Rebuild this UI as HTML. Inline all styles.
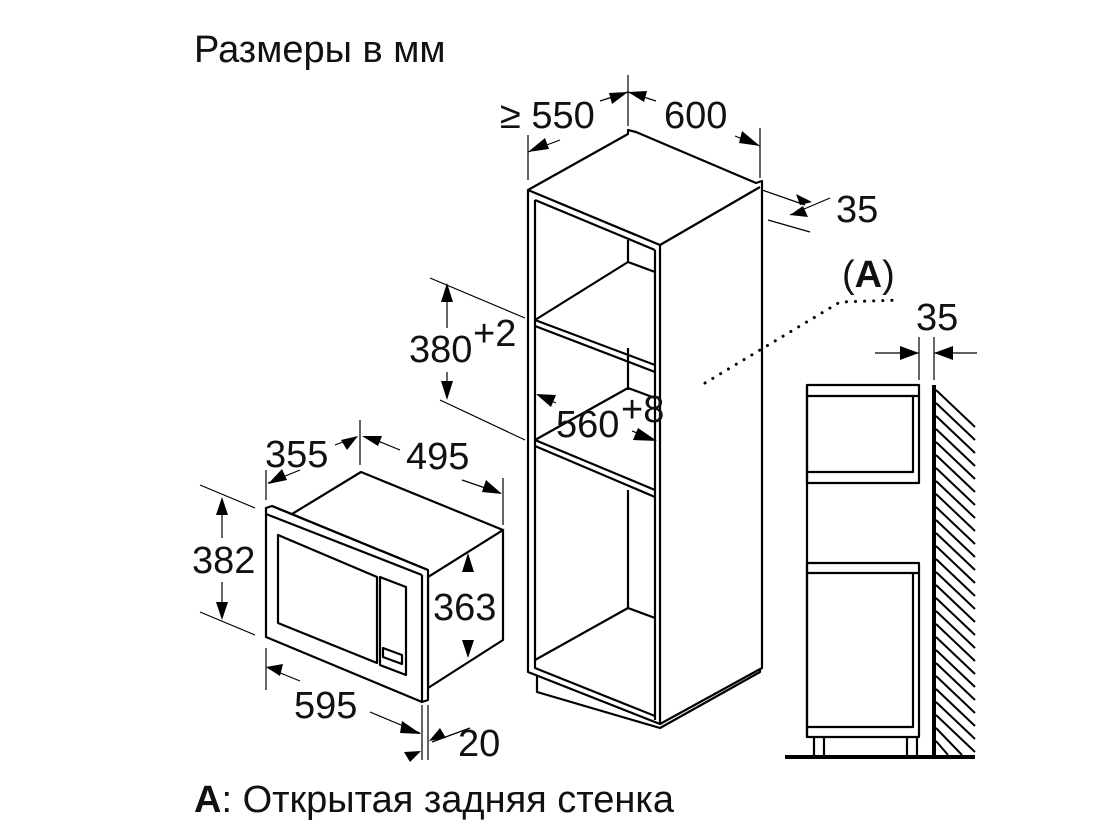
<!DOCTYPE html>
<html><head><meta charset="utf-8"><style>
html,body{margin:0;padding:0;background:#fff;}
svg{display:block;font-family:"Liberation Sans",Arial,sans-serif;}
</style></head><body>
<svg width="1119" height="838" viewBox="0 0 1119 838" xmlns="http://www.w3.org/2000/svg">
<style>
.l{stroke:#000;stroke-width:2.2;fill:none;stroke-linejoin:round}
.t{stroke:#000;stroke-width:1.2;fill:none}
.d{stroke:#000;stroke-width:1.2;fill:none;stroke-dasharray:9 6}
.w{fill:#fff;stroke:#000;stroke-width:2.2;stroke-linejoin:round}
text{font-size:38px;fill:#111}
</style>

<text x="194" y="62" font-size="35">Размеры в мм</text>
<text x="194" y="812" font-size="35"><tspan font-weight="bold">A</tspan>: Открытая задняя стенка</text>

<!-- ===== Tall cabinet ===== -->
<path class="d" d="M752 192 V662 M660 265 L752 302 M660 356 L752 306 M664 362 L752 314 M660 400 L744 442 M744 442 V655 M660 488 L744 440 M664 494 L744 448 M660 612 L752 658"/>
<path class="l" d="M537 672 V692 L660 728 L760 672 V660"/>
<path class="w" d="M528 190 L628 134 L628 130 L636 132 L756 183 L762 181 V668 L660 724 L528 672 Z"/>
<path class="l" d="M528 190 L660 245 L760 187"/>
<path class="l" d="M660 245 V724"/>
<path class="l" d="M655 250 V720"/>
<path class="l" d="M535 200 V668 L655 716"/>
<path class="l" d="M535 200 L655 250"/>
<path class="l" d="M628 240 V262 M628 348 V390 M628 490 V608"/>
<path class="l" d="M535 320 L628 262 L655 272 M535 320 L655 365 M535 326 L655 372"/>
<path class="l" d="M535 440 L628 388 L655 398 M535 440 L655 490 M535 446 L655 497"/>
<path class="l" d="M535 660 L628 608 L655 618"/>
<path d="M705 383 L840 302 L900 300" stroke="#000" stroke-width="3" stroke-dasharray="0.1 9" stroke-linecap="round" fill="none"/>
<text x="842" y="287" font-size="36">(<tspan font-weight="bold">A</tspan>)</text>

<path class="t" d="M528 180 V135 M628 75 V126 M760 178 V128"/>
<path class="t" d="M560 140 L528 152 M600 101 L628 92 M656 101 L628 92 M735 136 L760 146"/>
<polygon points="528,152 545,138 549,149"/><polygon points="628,92 609,93 612,104"/>
<polygon points="628,92 644,102 647,91"/><polygon points="760,146 742,131 739,143"/>
<text x="500" y="128">≥ 550</text>
<text x="664" y="128">600</text>
<path class="t" d="M762 190 L805 205 M768 220 L810 232 M790 215 L830 198"/>
<polygon points="790,215 808,217 803,206"/><polygon points="812,202 796,194 800,205"/>
<text x="836" y="222">35</text>

<path class="t" d="M430 278 L525 318 M440 400 L525 440 M447 285 V328 M447 372 V398"/>
<polygon points="447,283 441,302 453,302"/><polygon points="447,400 441,381 453,381"/>
<text x="409" y="362">380</text><text x="473" y="346" font-size="20">+2</text>
<path class="t" d="M540 396 L556 403 M632 431 L655 440"/>
<polygon points="536,394 556,395 551,407"/><polygon points="657,441 638,428 633,440"/>
<text x="556" y="437">560</text><text x="621" y="422" font-size="20">+8</text>

<!-- ===== Microwave ===== -->
<path class="w" d="M428 577 L503 530 V640 L428 688 Z"/>
<path class="w" d="M292 514 L361 472 L503 530 L428 577 Z"/>
<path class="w" d="M266 508 L272 506 L428 570 V700 L422 702 L266 637 Z"/>
<path class="l" d="M272 506 L428 570 M422 575 V702 M266 514 L422 575"/>
<path class="l" d="M278 535 L377 577 V663 L278 623 Z"/>
<path class="l" d="M380 577 L406 587 V675 L380 665 Z"/>
<path class="l" d="M383 648 L402 655 V664 L383 657 Z"/>
<path class="t" d="M266 500 V470 M360 465 V420 M503 525 V478"/>
<path class="t" d="M300 470 L268 483 M335 445 L356 437 M368 437 L400 450 M462 480 L500 493"/>
<polygon points="268,484 282,469 287,480"/><polygon points="358,436 341,440 347,450"/>
<polygon points="362,436 378,446 382,436"/><polygon points="502,494 486,480 482,492"/>
<text x="265" y="467">355</text><text x="406" y="469">495</text>
<path class="t" d="M200 485 L255 508 M200 612 L255 635 M222 500 V538 M222 582 V618"/>
<polygon points="222,497 216,515 228,515"/><polygon points="222,620 216,602 228,602"/>
<text x="192" y="573">382</text>
<path class="t" d="M468 555 V572 M468 640 V656"/>
<polygon points="468,553 462,572 474,572"/><polygon points="468,658 462,640 474,640"/>
<text x="433" y="620">363</text>
<path class="t" d="M266 648 V690 M422 705 V760 M428 705 V760 M268 668 L300 681 M370 712 L420 733 M432 742 L470 728"/>
<polygon points="266,667 283,664 280,676"/><polygon points="421,734 402,721 400,733"/>
<polygon points="429,741 440,728 446,738"/><polygon points="421,751 410,762 404,752"/>
<text x="294" y="718">595</text><text x="458" y="756">20</text>

<!-- ===== Section view ===== -->
<path class="l" d="M807 385 H919 V483 H807 Z M807 396 H919 M807 472 H913 V396"/>
<path class="l" d="M807 563 H919 V737 H807 Z M807 573 H919 M807 727 H913 V573"/>
<path class="l" d="M807 385 V737"/>
<path class="l" d="M814 737 V757 M824 737 V757 M907 737 V757 M917 737 V757"/>
<path d="M785 757 H975" stroke="#000" stroke-width="4"/>
<path d="M934 385 V757" stroke="#000" stroke-width="4"/>
<g stroke="#000" stroke-width="2">
<line x1="936" y1="390" x2="975" y2="427"/><line x1="936" y1="403" x2="975" y2="440"/>
<line x1="936" y1="416" x2="975" y2="453"/><line x1="936" y1="429" x2="975" y2="466"/>
<line x1="936" y1="442" x2="975" y2="479"/><line x1="936" y1="455" x2="975" y2="492"/>
<line x1="936" y1="468" x2="975" y2="505"/><line x1="936" y1="481" x2="975" y2="518"/>
<line x1="936" y1="494" x2="975" y2="531"/><line x1="936" y1="507" x2="975" y2="544"/>
<line x1="936" y1="520" x2="975" y2="557"/><line x1="936" y1="533" x2="975" y2="570"/>
<line x1="936" y1="546" x2="975" y2="583"/><line x1="936" y1="559" x2="975" y2="596"/>
<line x1="936" y1="572" x2="975" y2="609"/><line x1="936" y1="585" x2="975" y2="622"/>
<line x1="936" y1="598" x2="975" y2="635"/><line x1="936" y1="611" x2="975" y2="648"/>
<line x1="936" y1="624" x2="975" y2="661"/><line x1="936" y1="637" x2="975" y2="674"/>
<line x1="936" y1="650" x2="975" y2="687"/><line x1="936" y1="663" x2="975" y2="700"/>
<line x1="936" y1="676" x2="975" y2="713"/><line x1="936" y1="689" x2="975" y2="726"/>
<line x1="936" y1="702" x2="975" y2="739"/><line x1="936" y1="715" x2="975" y2="752"/>
<line x1="936" y1="728" x2="962" y2="755"/><line x1="936" y1="741" x2="948" y2="755"/>
</g>
<path class="t" d="M919 337 V380 M934 337 V380 M875 353 H919 M934 353 H977"/>
<polygon points="919,353 900,346 900,360"/><polygon points="934,353 953,346 953,360"/>
<text x="916" y="330">35</text>
</svg>
</body></html>
